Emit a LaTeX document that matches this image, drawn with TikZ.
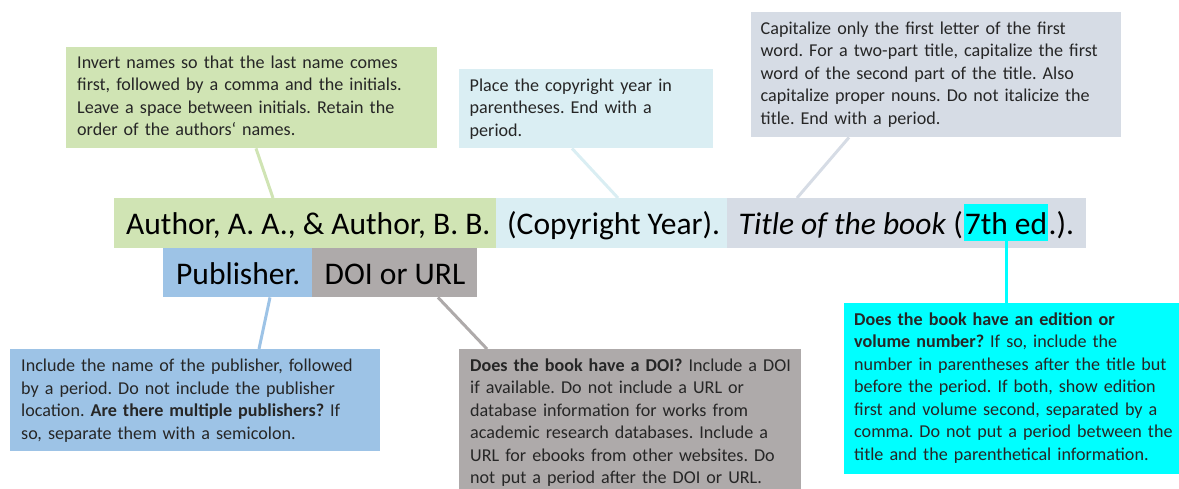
\documentclass[tikz,border=0pt]{standalone}
\usepackage{fontspec}
\setmainfont{Carlito}
\usetikzlibrary{calc}

\definecolor{authgreen}{HTML}{D0E4B4}
\definecolor{yearblue}{HTML}{DAEEF3}
\definecolor{titlegray}{HTML}{D6DCE5}
\definecolor{pubblue}{HTML}{9DC3E6}
\definecolor{doigray}{HTML}{AEAAAA}
\definecolor{edcyan}{HTML}{00FFFF}

\newcommand\notesize{\fontsize{18.1}{22.5}\selectfont}
\newcommand\refsize{\fontsize{31.5}{36}\selectfont}

\tikzset{
  panel/.style={anchor=north west, inner sep=0pt, draw=none},
  notetext/.style={anchor=base west, inner sep=0pt, font=\notesize,
    text width=420pt, align=left, text=black!85},
  reftext/.style={anchor=base west, inner sep=0pt, font=\refsize, text=black},
  link/.style={line width=3pt},
}

\frenchspacing
\begin{document}
\frenchspacing
\begin{tikzpicture}[x=1pt, y=-1pt]
\useasboundingbox (0,0) rectangle (1179,488);

% ---------- reference line: coloured segments ----------
\node[panel, fill=authgreen, minimum width=382pt, minimum height=50pt] (author) at (114,198) {};
\node[panel, fill=yearblue, minimum width=231pt, minimum height=50pt] (year) at (496,198) {};
\node[panel, fill=titlegray, minimum width=359pt, minimum height=50pt] (title) at (727,198) {};
\node[panel, fill=pubblue, minimum width=149pt, minimum height=49pt] (pub) at (163,248) {};
\node[panel, fill=doigray, minimum width=165pt, minimum height=49pt] (doi) at (312,248) {};

\node[reftext] (authortxt) at (126,234) {Author, A. A., \& Author, B. B.};
\node[reftext] (yeartxt) at (507,234) {(Copyright Year).};
\node[reftext] (titletxt) at (738.5,234) {\textit{Title of the book} (};
\node[reftext, fill=edcyan, inner xsep=1pt, text height=30pt, text depth=7pt]
  (ed) at ([xshift=0.5pt]titletxt.base east) {7th ed};
\node[reftext] (endtxt) at (ed.base east) {.).};
\node[reftext] (pubtxt) at (176,284) {Publisher.};
\node[reftext] (doitxt) at (324.5,284) {DOI or URL};

% ---------- explanatory panels ----------
\node[panel, fill=authgreen, minimum width=371pt, minimum height=101pt] (authnote) at (66,47) {};
\node[notetext] (authnotetxt) at (77,68.3) {Invert names so that the last name comes\\
first, followed by a comma and the initials.\\
Leave a space between initials. Retain the\\
order of the authors‘ names.};

\node[panel, fill=yearblue, minimum width=253.5pt, minimum height=79pt] (yearnote) at (459,69) {};
\node[notetext] (yearnotetxt) at (469.5,91) {Place the copyright year in\\
parentheses. End with a\\
period.};

\node[panel, fill=titlegray, minimum width=370pt, minimum height=125pt] (titlenote) at (751,12) {};
\node[notetext] (titlenotetxt) at (760.5,34) {Capitalize only the first letter of the first\\
word. For a two-part title, capitalize the first\\
word of the second part of the title. Also\\
capitalize proper nouns. Do not italicize the\\
title. End with a period.};

\node[panel, fill=pubblue, minimum width=370pt, minimum height=102pt] (pubnote) at (10,349) {};
\node[notetext] (pubnotetxt) at (21,371.5) {Include the name of the publisher, followed\\
by a period. Do not include the publisher\\
location. \textbf{Are there multiple publishers?} If\\
so, separate them with a semicolon.};

\node[panel, fill=doigray, minimum width=342pt, minimum height=160pt] (doinote) at (459,349) {};
\node[notetext] (doinotetxt) at (470,371) {\textbf{Does the book have a DOI?} Include a DOI\\
if available. Do not include a URL or\\
database information for works from\\
academic research databases. Include a\\
URL for ebooks from other websites. Do\\
not put a period after the DOI or URL.};

\node[panel, fill=edcyan, minimum width=350pt, minimum height=171pt] (ednote) at (844,303) {};
\node[notetext] (ednotetxt) at (854,325) {\textbf{Does the book have an edition or}\\
\textbf{volume number?} If so, include the\\
number in parentheses after the title but\\
before the period. If both, show edition\\
first and volume second, separated by a\\
comma. Do not put a period between the\\
title and the parenthetical information.};

% ---------- connectors ----------
\draw[link, authgreen] ([xshift=190pt]authnote.south west) -- ([xshift=159pt]author.north west);
\draw[link, yearblue] ([xshift=113pt]yearnote.south west) -- ([xshift=122pt]year.north west);
\draw[link, titlegray] ([xshift=98pt]titlenote.south west) -- ([xshift=70pt]title.north west);
\draw[link, pubblue] ([xshift=107pt]pub.south west) -- ([xshift=249pt]pubnote.north west);
\draw[link, doigray] ([xshift=126pt]doi.south west) -- ([xshift=28pt]doinote.north west);
\draw[link, edcyan] (ed.south) -- (ed.south |- ednote.north);
\end{tikzpicture}
\end{document}
